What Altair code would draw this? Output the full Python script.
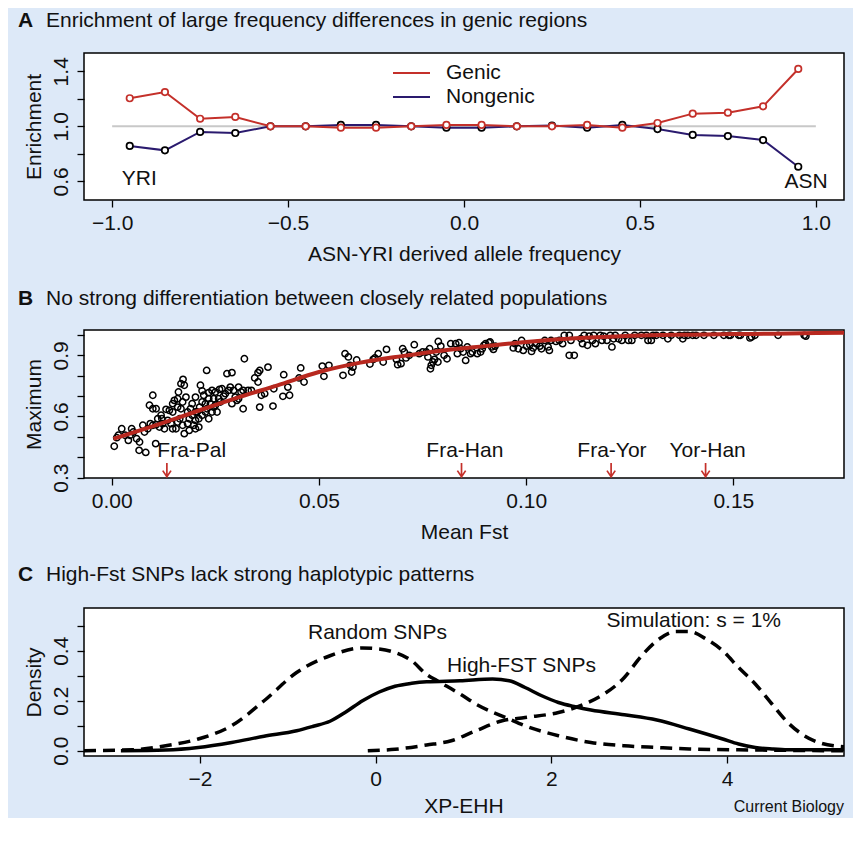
import altair as alt
import pandas as pd

FONT = "Liberation Sans"
BG = "#dde9f8"
RED = "#c4302a"
NAVY = "#2a1a6e"
FITRED = "#b8281f"

# ---------------- Panel A data ----------------
freq_bins = [-0.95, -0.85, -0.75, -0.65, -0.55, -0.45, -0.35, -0.25, -0.15, -0.05,
             0.05, 0.15, 0.25, 0.35, 0.45, 0.55, 0.65, 0.75, 0.85, 0.95]
genic = [1.204, 1.249, 1.055, 1.068, 1.0, 1.0, 0.99, 0.99, 1.0, 1.01,
         1.01, 1.0, 1.0, 1.01, 0.99, 1.024, 1.092, 1.099, 1.145, 1.417]
nongenic = [0.857, 0.825, 0.959, 0.951, 1.0, 1.0, 1.01, 1.01, 1.0, 0.99,
            0.99, 1.0, 1.005, 0.99, 1.01, 0.98, 0.937, 0.929, 0.90, 0.706]
series_names = ["Genic", "Nongenic"]

# ---------------- Panel B data ----------------
fst = [0.0006, 0.0012, 0.0024, 0.0016, 0.0044, 0.0052, 0.0040, 0.0060, 0.0066, 0.0082,
       0.0067, 0.0079, 0.0087, 0.0099, 0.0107, 0.0106, 0.0115, 0.0127, 0.0121, 0.0091,
       0.0099, 0.0107, 0.0119, 0.0131, 0.0139, 0.0147, 0.0155, 0.0159, 0.0164, 0.0167,
       0.0171, 0.0175, 0.0167, 0.0172, 0.0159, 0.0151, 0.0161, 0.0179, 0.0175, 0.0183,
       0.0187, 0.0194, 0.0198, 0.0202, 0.0206, 0.0210, 0.0212, 0.0218, 0.0222, 0.0226,
       0.0230, 0.0234, 0.0202, 0.0214, 0.0229, 0.0218, 0.0234, 0.0242, 0.0246, 0.0250,
       0.0254, 0.0258, 0.0262, 0.0266, 0.0270, 0.0260, 0.0274, 0.0278, 0.0290, 0.0286,
       0.0294, 0.0298, 0.0302, 0.0290, 0.0306, 0.0312, 0.0317, 0.0320, 0.0329, 0.0337,
       0.0345, 0.0353, 0.0357, 0.0353, 0.0357, 0.0361, 0.0369, 0.0377, 0.0389, 0.0391,
       0.0413, 0.0415, 0.0425, 0.0429, 0.0452, 0.0456, 0.0464, 0.0508, 0.0512, 0.0524,
       0.0558, 0.0563, 0.0571, 0.0575, 0.0579, 0.0582, 0.0591, 0.0623, 0.0631, 0.0635,
       0.0643, 0.0655, 0.0663, 0.0687, 0.0690, 0.0698, 0.0702, 0.0706, 0.0710, 0.0718,
       0.0730, 0.0742, 0.0750,
       0.0135, 0.0143, 0.0147, 0.0171, 0.0183, 0.0190, 0.0194, 0.0202, 0.0210, 0.0218,
       0.0226, 0.0238, 0.0242, 0.0246, 0.0250, 0.0234, 0.0032, 0.0048, 0.0075, 0.0093,
       0.0111, 0.0123, 0.0099, 0.0147, 0.0159, 0.0282, 0.0306, 0.0317, 0.0202, 0.0187,
       0.0759, 0.0767, 0.0769, 0.0775, 0.0771, 0.0779, 0.0787, 0.0788, 0.0794, 0.0809,
       0.0818, 0.0830, 0.0834, 0.0838, 0.0842, 0.0854, 0.0858, 0.0866, 0.0870, 0.0882,
       0.0890, 0.0894, 0.0898, 0.0902, 0.0910, 0.0913, 0.0917, 0.0921, 0.0925, 0.0969,
       0.0973, 0.0981, 0.0989, 0.0993, 0.1001, 0.1009, 0.1013, 0.1017, 0.1025, 0.1033,
       0.1037, 0.1045, 0.1053, 0.1056, 0.1060, 0.1072, 0.1080, 0.1088, 0.1092, 0.1104,
       0.1116, 0.1104, 0.1108, 0.1132, 0.1136, 0.1140, 0.1148, 0.1152, 0.1160, 0.1163,
       0.1167, 0.1179, 0.1183, 0.1187, 0.1195, 0.1203, 0.1207, 0.1211, 0.1215, 0.1223,
       0.1231, 0.1239, 0.1247, 0.1255, 0.1262, 0.1278, 0.1290, 0.1294, 0.1302, 0.1306,
       0.1314, 0.1330, 0.1342, 0.1350, 0.1370, 0.1378, 0.1382, 0.1390, 0.1402, 0.1410,
       0.1429, 0.1453, 0.1477, 0.1489, 0.1493, 0.1513, 0.1517, 0.1540, 0.1544, 0.1552,
       0.1608, 0.1671, 0.1675, 0.0763, 0.0783, 0.0802, 0.0848]
maxv = [0.454, 0.496, 0.540, 0.508, 0.508, 0.524, 0.483, 0.491, 0.434, 0.424,
        0.475, 0.524, 0.540, 0.557, 0.560, 0.467, 0.548, 0.540, 0.589, 0.655,
        0.704, 0.638, 0.606, 0.635, 0.630, 0.622, 0.540, 0.573, 0.589, 0.638,
        0.671, 0.753, 0.761, 0.782, 0.687, 0.679, 0.720, 0.695, 0.516, 0.565,
        0.589, 0.606, 0.557, 0.581, 0.622, 0.589, 0.646, 0.606, 0.704, 0.663,
        0.638, 0.589, 0.695, 0.753, 0.826, 0.726, 0.717, 0.728, 0.687, 0.655,
        0.622, 0.687, 0.671, 0.736, 0.700, 0.733, 0.712, 0.810, 0.815, 0.744,
        0.728, 0.695, 0.679, 0.663, 0.744, 0.720, 0.638, 0.883, 0.728, 0.728,
        0.789, 0.815, 0.826, 0.769, 0.646, 0.704, 0.712, 0.842, 0.651, 0.736,
        0.699, 0.805, 0.744, 0.704, 0.789, 0.838, 0.769, 0.847, 0.797, 0.851,
        0.802, 0.908, 0.892, 0.851, 0.818, 0.842, 0.877, 0.857, 0.880, 0.887,
        0.908, 0.867, 0.929, 0.880, 0.854, 0.859, 0.932, 0.916, 0.887, 0.900,
        0.952, 0.908, 0.916,
        0.581, 0.565, 0.540, 0.557, 0.622, 0.638, 0.663, 0.622, 0.548, 0.671,
        0.622, 0.663, 0.622, 0.646, 0.720, 0.687, 0.508, 0.540, 0.557, 0.565,
        0.589, 0.565, 0.638, 0.663, 0.646, 0.728, 0.687, 0.728, 0.540, 0.532,
        0.916, 0.932, 0.834, 0.867, 0.851, 0.880, 0.867, 0.968, 0.945, 0.883,
        0.957, 0.957, 0.908, 0.962, 0.932, 0.875, 0.941, 0.908, 0.916, 0.908,
        0.916, 0.932, 0.949, 0.957, 0.962, 0.965, 0.941, 0.929, 0.945, 0.936,
        0.957, 0.932, 0.973, 0.924, 0.945, 0.952, 0.919, 0.936, 0.957, 0.945,
        0.932, 0.973, 0.941, 0.924, 0.973, 0.968, 0.973, 0.957, 0.998, 0.900,
        0.900, 0.998, 0.973, 0.981, 0.957, 0.998, 0.949, 0.994, 0.973, 0.998,
        0.957, 0.998, 0.973, 0.994, 0.973, 0.998, 0.941, 0.981, 0.998, 0.981,
        0.973, 0.998, 0.973, 0.973, 0.998, 0.998, 0.998, 0.973, 0.973, 0.998,
        0.998, 0.998, 0.981, 0.998, 0.998, 0.981, 0.998, 0.998, 0.998, 0.998,
        0.998, 0.998, 0.998, 0.998, 0.998, 0.998, 0.998, 0.985, 0.990, 0.998,
        0.998, 0.998, 0.994, 0.892, 0.916, 0.900, 0.916]

fit_x = [0.0004, 0.01, 0.02, 0.03, 0.04, 0.05, 0.06, 0.07, 0.08, 0.09, 0.10,
         0.11, 0.12, 0.13, 0.14, 0.15, 0.16, 0.17, 0.1767]
fit_y = [0.49, 0.553, 0.622, 0.69, 0.753, 0.818, 0.864, 0.896, 0.924, 0.945, 0.965,
         0.981, 0.991, 0.998, 1.001, 1.004, 1.006, 1.009, 1.011]

pair_names = ["Fra-Pal", "Fra-Han", "Fra-Yor", "Yor-Han"]
pair_fst = [0.0133, 0.0844, 0.1205, 0.1433]
pair_label_fst = [0.0193, 0.0852, 0.1207, 0.1438]

# ---------------- Panel C data ----------------
random_x = [-3.32, -2.77, -2.39, -2.02, -1.64, -1.27, -0.90, -0.52, -0.15, 0.04, 0.22,
            0.41, 0.58, 0.70, 0.96, 1.14, 1.52, 1.70, 2.08, 2.45, 2.83, 3.20, 3.57,
            4.32, 4.88, 5.33]
random_y = [0.0, 0.004, 0.02, 0.047, 0.10, 0.20, 0.313, 0.38, 0.411, 0.407, 0.393,
            0.36, 0.305, 0.28, 0.227, 0.187, 0.127, 0.10, 0.06, 0.033, 0.02, 0.013,
            0.007, 0.003, 0.001, 0.0]
highfst_x = [-2.90, -2.39, -2.02, -1.64, -1.27, -0.90, -0.71, -0.52, -0.34, -0.15, 0.04,
             0.22, 0.41, 0.58, 0.96, 1.33, 1.52, 1.70, 1.89, 2.08, 2.27, 2.45, 2.83,
             3.20, 3.57, 3.95, 4.13, 4.32, 4.51, 4.69, 5.33]
highfst_y = [0.0, 0.003, 0.013, 0.033, 0.058, 0.08, 0.098, 0.118, 0.155, 0.20, 0.235,
             0.258, 0.27, 0.276, 0.28, 0.287, 0.28, 0.253, 0.22, 0.193, 0.176, 0.163,
             0.144, 0.123, 0.087, 0.047, 0.027, 0.013, 0.007, 0.004, 0.004]
sim_x = [-0.09, 0.22, 0.58, 0.86, 1.14, 1.44, 1.70, 2.08, 2.38, 2.60, 2.83, 3.01, 3.20,
         3.42, 3.57, 3.76, 3.95, 4.13, 4.32, 4.51, 4.69, 4.88, 5.07, 5.33]
sim_y = [0.0, 0.006, 0.023, 0.04, 0.08, 0.12, 0.133, 0.153, 0.187, 0.227, 0.293, 0.373,
         0.44, 0.477, 0.477, 0.447, 0.40, 0.333, 0.267, 0.187, 0.113, 0.06, 0.03, 0.016]
curve_labels = ["Random SNPs", "High-FST SNPs", "Simulation: s = 1%"]
curve_label_x = [0.02, 1.66, 3.62]
curve_label_y = [0.47, 0.339, 0.519]

W = 760
HA, HB, HC = 147, 148, 148
FS = 21


def panel_title(letter, text, ypos):
    d = pd.DataFrame({"letter": [letter], "text": [text]})
    base = alt.Chart(d)
    l = base.mark_text(font=FONT, fontSize=FS, fontWeight="bold", align="left",
                       baseline="alphabetic", color="#111").encode(
        x=alt.value(-66), y=alt.value(ypos), text="letter:N")
    t = base.mark_text(font=FONT, fontSize=FS, align="left", baseline="alphabetic",
                       color="#111").encode(
        x=alt.value(-38), y=alt.value(ypos), text="text:N")
    return [l, t]


def ylab_expr(show):
    cond = " || ".join([f"abs(datum.value - {v}) < 1e-6" for v in show])
    return f"({cond}) ? datum.label : ''"


# ---------------- Panel A ----------------
dfA = pd.DataFrame({
    "freq": freq_bins + freq_bins,
    "enrich": genic + nongenic,
    "series": [series_names[0]] * len(freq_bins) + [series_names[1]] * len(freq_bins),
})
xA = alt.X("freq:Q", scale=alt.Scale(domain=[-1.08, 1.08], nice=False, zero=False),
           axis=alt.Axis(values=[-1, -0.5, 0, 0.5, 1], format=".1f",
                         title="ASN-YRI derived allele frequency"))
yA = alt.Y("enrich:Q", scale=alt.Scale(domain=[0.464, 1.533], nice=False, zero=False),
           axis=alt.Axis(values=[0.6, 0.8, 1.0, 1.2, 1.4], format=".1f",
                         labelExpr=ylab_expr([0.6, 1.0, 1.4]), title="Enrichment"))

refA = alt.Chart(pd.DataFrame({"freq": [-1.0, 1.0], "enrich": [1.0, 1.0]})).mark_line(
    color="#c8c8c8", strokeWidth=2).encode(x=xA, y=yA)

col_scale = alt.Scale(domain=series_names, range=[RED, NAVY])
pt_scale = alt.Scale(domain=series_names, range=[RED, "black"])

layersA = [refA]
for name in ["Nongenic", "Genic"]:
    base = alt.Chart(dfA).transform_filter(alt.datum.series == name)
    layersA.append(base.mark_line(strokeWidth=2).encode(
        x=xA, y=yA, color=alt.Color("series:N", scale=col_scale, legend=None)))
    layersA.append(base.mark_point(filled=False, fill="white", fillOpacity=1, size=42,
                                   strokeWidth=1.7, opacity=1).encode(
        x=xA, y=yA, stroke=alt.Stroke("series:N", scale=pt_scale, legend=None)))

# manual legend
for i, name in enumerate(series_names):
    col = [RED, NAVY][i]
    ly = 20 + 24 * i
    ld = pd.DataFrame({"series": [name]})
    layersA.append(alt.Chart(ld).mark_rule(color=col, strokeWidth=2).encode(
        x=alt.value(309), x2=alt.value(346), y=alt.value(ly)))
    layersA.append(alt.Chart(ld).mark_text(font=FONT, fontSize=FS, align="left",
                                           baseline="middle", color="#111").encode(
        x=alt.value(362), y=alt.value(ly), text="series:N"))

popA = pd.DataFrame({"freq": [-0.923, 0.972], "enrich": [0.617, 0.595], "lab": ["YRI", "ASN"]})
layersA.append(alt.Chart(popA).mark_text(font=FONT, fontSize=FS, baseline="middle",
                                         color="#111").encode(x=xA, y=yA, text="lab:N"))
layersA += panel_title("A", "Enrichment of large frequency differences in genic regions", -26)

panelA = alt.layer(*layersA).properties(width=W, height=HA)

# ---------------- Panel B ----------------
xB = alt.X("fst:Q", scale=alt.Scale(domain=[-0.0067, 0.1767], nice=False, zero=False),
           axis=alt.Axis(values=[0, 0.05, 0.10, 0.15], format=".2f", title="Mean Fst"))
yB = alt.Y("maxv:Q", scale=alt.Scale(domain=[0.2985, 1.024], nice=False, zero=False),
           axis=alt.Axis(values=[0.3, 0.4, 0.5, 0.6, 0.7, 0.8, 0.9, 1.0], format=".1f",
                         labelExpr=ylab_expr([0.3, 0.6, 0.9]), title="Maximum"))

dfB = pd.DataFrame({"fst": fst, "maxv": maxv})
dfFit = pd.DataFrame({"fst": fit_x, "maxv": fit_y})
dfPairs = pd.DataFrame({"fst": pair_fst, "maxv": [0.338] * 4, "lab": pair_names})
dfPairLab = pd.DataFrame({"fst": pair_label_fst, "maxv": [0.431] * 4, "lab": pair_names})

layersB = [
    alt.Chart(dfB).mark_point(filled=False, size=40, strokeWidth=1.5, color="black",
                              opacity=1).encode(x=xB, y=yB),
    alt.Chart(dfFit).mark_line(color=FITRED, strokeWidth=4, interpolate="monotone").encode(x=xB, y=yB),
    alt.Chart(dfPairs).mark_point(shape="M0,-1L0,1M-0.6,0.1L0,1L0.6,0.1", filled=False,
                                  size=190, strokeWidth=1.7, color=RED, opacity=1).encode(x=xB, y=yB),
    alt.Chart(dfPairLab).mark_text(font=FONT, fontSize=FS, baseline="middle",
                                   color="#111").encode(x=xB, y=yB, text="lab:N"),
]
layersB += panel_title("B", "No strong differentiation between closely related populations", -25)
panelB = alt.layer(*layersB).properties(width=W, height=HB)

# ---------------- Panel C ----------------
xC = alt.X("xpehh:Q", scale=alt.Scale(domain=[-3.32, 5.33], nice=False, zero=False),
           axis=alt.Axis(values=[-2, 0, 2, 4], format="d", title=None))
yC = alt.Y("density:Q", scale=alt.Scale(domain=[-0.021, 0.571], nice=False, zero=False),
           axis=alt.Axis(values=[0, 0.1, 0.2, 0.3, 0.4, 0.5], format=".1f",
                         labelExpr=ylab_expr([0, 0.2, 0.4]), title="Density"))

dfRand = pd.DataFrame({"xpehh": random_x, "density": random_y})
dfHigh = pd.DataFrame({"xpehh": highfst_x, "density": highfst_y})
dfSim = pd.DataFrame({"xpehh": sim_x, "density": sim_y})
dfCL = pd.DataFrame({"xpehh": curve_label_x, "density": curve_label_y, "lab": curve_labels})

layersC = [
    alt.Chart(dfRand).mark_line(color="black", strokeWidth=3.5, strokeDash=[12, 7],
                                interpolate="monotone", clip=True).encode(x=xC, y=yC),
    alt.Chart(dfSim).mark_line(color="black", strokeWidth=3.5, strokeDash=[12, 7],
                               interpolate="monotone", clip=True).encode(x=xC, y=yC),
    alt.Chart(dfHigh).mark_line(color="black", strokeWidth=3.5,
                                interpolate="monotone", clip=True).encode(x=xC, y=yC),
    alt.Chart(dfCL).mark_text(font=FONT, fontSize=FS, baseline="middle",
                              color="#111").encode(x=xC, y=yC, text="lab:N"),
    alt.Chart(pd.DataFrame({"lab": ["XP-EHH"]})).mark_text(
        font=FONT, fontSize=FS, align="center", baseline="middle", color="#111").encode(
        x=alt.value(W / 2), y=alt.value(199), text="lab:N"),
    alt.Chart(pd.DataFrame({"lab": ["Current Biology"]})).mark_text(
        font=FONT, fontSize=16, align="right", baseline="middle", color="#111").encode(
        x=alt.value(W), y=alt.value(199), text="lab:N"),
]
layersC += panel_title("C", "High-Fst SNPs lack strong haplotypic patterns", -27)
panelC = alt.layer(*layersC).properties(width=W, height=HC)

chart = alt.vconcat(panelA, panelB, panelC, spacing=130, bounds="flush").properties(
    background=BG,
    padding={"left": 9, "top": 1, "right": 0, "bottom": 0},
).configure_view(
    fill="white", stroke="black", strokeWidth=1.5
).configure_axis(
    domain=False, grid=False, ticks=True, tickSize=7, tickWidth=1.3, tickColor="black",
    labelFont=FONT, labelFontSize=FS, labelColor="#111", labelPadding=5,
    titleFont=FONT, titleFontSize=FS, titleFontWeight="normal", titleColor="#111",
    labelFlush=False, labelOverlap=False,
).configure_axisX(
    titlePadding=10
).configure_axisY(
    labelAngle=270, labelAlign="center", labelBaseline="bottom", labelPadding=6,
    titlePadding=6
)

chart.save("out.html", embed_options={"renderer": "svg", "actions": False})
